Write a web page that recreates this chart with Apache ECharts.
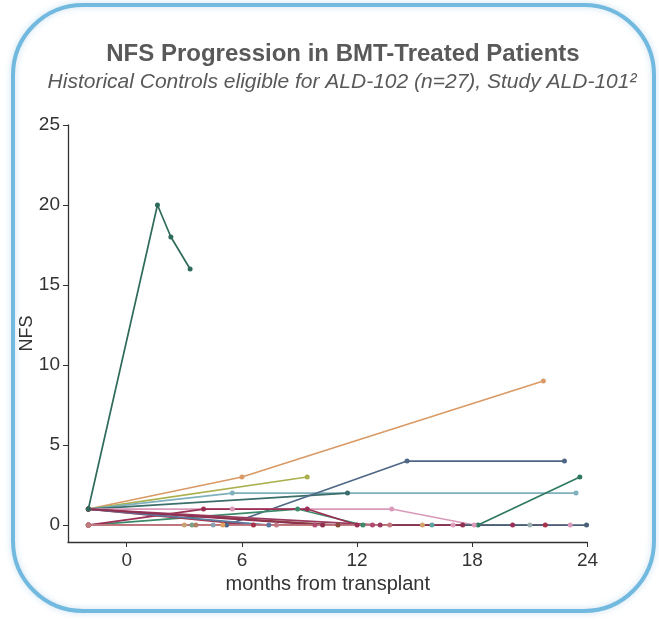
<!DOCTYPE html>
<html>
<head>
<meta charset="utf-8">
<script src="https://cdn.jsdelivr.net/npm/echarts@6/dist/echarts.min.js"></script>
<style>
html,body{margin:0;padding:0;background:#fff;}
#c{width:659px;height:620px;}
</style>
</head>
<body>
<div id="c"></div>
<script>
// ---- data: each patient is [month, NFS] pairs ----
const titleText = 'NFS Progression in BMT-Treated Patients';
const subtitleText = 'Historical Controls eligible for ALD-102 (n=27), Study ALD-101\u00B2';
const xTicks = [0, 6, 12, 18, 24];
const yTicks = [0, 5, 10, 15, 20, 25];

const p01 = [[-2,1],[1.6,20],[2.3,18],[3.3,16]];
const p02 = [[-2,1],[6,3],[21.7,9]];
const p03 = [[-2,1],[9.4,3]];
const p04 = [[-2,1],[5.5,2],[23.4,2]];
const p05 = [[-2,1],[11.5,2]];
const p06 = [[-2,0],[5.2,0],[14.6,4],[22.8,4]];
const p07 = [[-2,0],[18.3,0],[23.6,3]];
const p08 = [[-2,1],[5.5,1],[13.8,1],[18.1,0],[23.1,0]];
const p09 = [[-2,0],[8.9,1],[12.3,0]];
const p10 = [[-2,0],[4,1],[9.4,1],[12,0],[20.1,0]];
const p11 = [[-2,1],[6.6,0],[21.8,0]];
const p12 = [[-2,1],[11,0]];
const p13 = [[-2,1],[13.2,0]];
const p14 = [[-2,0],[15.4,0]];
const p15 = [[-2,0],[15.9,0]];
const p16 = [[-2,0],[17,0]];
const p17 = [[-2,0],[21,0]];
const p18 = [[-2,0],[23.95,0]];
const p19 = [[-2,0],[3.0,0]];
const p20 = [[-2,0],[3.4,0]];
const p21 = [[-2,0],[3.6,0]];
const p22 = [[-2,0],[4.5,0]];
const p23 = [[-2,0],[5.0,0]];
const p24 = [[-2,1],[7.4,0]];
const p25 = [[-2,0],[9.8,0],[12.8,0]];
const p26 = [[-2,1],[10.2,0],[17.5,0]];
const p27 = [[-2,0],[7.8,0],[13.7,0]];

const patients = [p01,p02,p03,p04,p05,p06,p07,p08,p09,p10,p11,p12,p13,p14,p15,p16,p17,p18,p19,p20,p21,p22,p23,p24,p25,p26,p27];
const colors = ['#2e6b5b','#d99a66','#aab04c','#7fb0bd','#3b6e6a','#4d6785','#2f7a5e','#d99aba','#3d8a6a','#9c2f55',
                '#a8324a','#8b4a3a','#9a3a60','#d4a26a','#5fa3a0','#e0a0c0','#9fb0b0','#4a5f78','#c9a070','#7aa088',
                '#b08060','#8aa0b0','#e0a060','#5a7aa0','#b04a70','#8f3050','#c07a80'];

const chart = echarts.init(document.getElementById('c'), null, {renderer:'canvas'});
const FONT = '"Liberation Sans", Arial, sans-serif';

const series = patients.map((p, i) => ({
  type: 'line',
  data: p,
  symbol: 'circle',
  symbolSize: 5,
  z: 2 + (i === 0 ? 30 : 0),
  lineStyle: { width: 1.7, color: colors[i] },
  itemStyle: { color: colors[i] },
  emphasis: { disabled: true },
  animation: false
}));

chart.setOption({
  backgroundColor: '#ffffff',
  animation: false,
  title: [
    { text: titleText, left: 338, textAlign: 'center', top: 37,
      textStyle: { fontFamily: FONT, fontSize: 24, fontWeight: 'bold', color: '#595959' } },
    { text: subtitleText, left: 337, textAlign: 'center', top: 67,
      textStyle: { fontFamily: FONT, fontSize: 21, fontStyle: 'italic', fontWeight: 'normal', color: '#595959' } }
  ],
  graphic: [
    { type: 'rect', z: -1, silent: true,
      shape: { x: 13, y: 5, width: 641, height: 606, r: 70 },
      style: { fill: 'none', stroke: '#72b9df', lineWidth: 4,
               shadowBlur: 6, shadowColor: 'rgba(90,160,210,0.35)' } }
  ],
  grid: { left: 68, right: 71.5, top: 125, bottom: 78, containLabel: false },
  xAxis: {
    type: 'value', min: -3.06, max: 24,
    name: 'months from transplant', nameLocation: 'middle', nameGap: 32, nameMoveOverlap: false,
    nameTextStyle: { fontFamily: FONT, fontSize: 20, color: '#333' },
    axisLine: { show: true, onZero: false, lineStyle: { color: '#333', width: 1.3 } },
    axisTick: { show: true, length: 5, customValues: xTicks, lineStyle: { color: '#333' } },
    axisLabel: { customValues: xTicks, fontFamily: FONT, fontSize: 19, color: '#333', margin: 9 },
    splitLine: { show: false }
  },
  yAxis: {
    type: 'value', min: -1.06, max: 25,
    name: 'NFS', nameLocation: 'middle', nameGap: 32, nameRotate: 90, nameMoveOverlap: false,
    nameTextStyle: { fontFamily: FONT, fontSize: 18, color: '#333' },
    axisLine: { show: true, onZero: false, lineStyle: { color: '#333', width: 1.3 } },
    axisTick: { show: true, length: 5, customValues: yTicks, lineStyle: { color: '#333' } },
    axisLabel: { customValues: yTicks, fontFamily: FONT, fontSize: 19, color: '#333', margin: 8 },
    splitLine: { show: false }
  },
  series: series
});
</script>
</body>
</html>
